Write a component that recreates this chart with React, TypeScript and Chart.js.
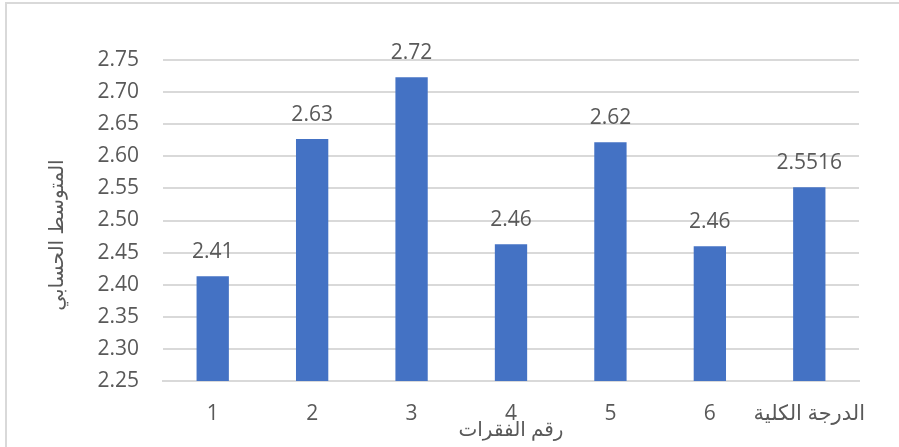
import React, { useEffect, useRef } from "react";
import { Chart, registerables } from "chart.js";

Chart.register(...registerables);

const categories = ["1", "2", "3", "4", "5", "6", "الدرجة الكلية"];
const values = [2.413, 2.627, 2.723, 2.463, 2.622, 2.46, 2.5516];
const dataLabels = ["2.41", "2.63", "2.72", "2.46", "2.62", "2.46", "2.5516"];
const yMin = 2.25;
const yMax = 2.75;
const yStep = 0.05;
const xTitle = "رقم الفقرات";
const yTitle = "المتوسط الحسابي";

const FONT = "'Open Sans', 'DejaVu Sans', sans-serif";
const TEXT = "#595959";

const labelsPlugin = {
  id: "customLabels",
  afterDatasetsDraw(chart: any) {
    const ctx = chart.ctx;
    const meta = chart.getDatasetMeta(0);
    ctx.save();
    ctx.font = `21px ${FONT}`;
    ctx.fillStyle = TEXT;
    ctx.textAlign = "center";
    ctx.textBaseline = "alphabetic";
    meta.data.forEach((el: any, i: number) => {
      ctx.fillText(dataLabels[i], el.x, el.y - 18);
    });
    // x title
    const ca = chart.chartArea;
    ctx.font = `20px ${FONT}`;
    ctx.textBaseline = "middle";
    ctx.fillText(xTitle, (ca.left + ca.right) / 2, 430);
    // y title
    ctx.translate(57, 235);
    ctx.rotate(-Math.PI / 2);
    ctx.fillText(yTitle, 0, 0);
    ctx.restore();
  },
};

export default function App() {
  const ref = useRef<HTMLCanvasElement>(null);
  useEffect(() => {
    if (!ref.current) return;
    const chart = new Chart(ref.current, {
      type: "bar",
      data: {
        labels: categories,
        datasets: [
          {
            data: values,
            backgroundColor: "#4472C4",
            borderWidth: 0,
            barPercentage: 0.325,
            categoryPercentage: 1,
          },
        ],
      },
      options: {
        animation: false,
        responsive: false,
        events: [],
        layout: { padding: { top: 60, right: 40, left: 0, bottom: 0 } },
        plugins: { legend: { display: false }, tooltip: { enabled: false } },
        scales: {
          x: {
            grid: { display: false, drawTicks: false },
            border: { color: "#d9d9d9", width: 2 },
            ticks: {
              color: TEXT,
              font: { size: 21, family: FONT },
              padding: 20,
              maxRotation: 0,
              autoSkip: false,
            },
            afterFit: (s: any) => {
              s.height = 66;
            },
          },
          y: {
            min: yMin,
            max: yMax,
            grid: { color: "#d9d9d9", lineWidth: 2, drawTicks: false },
            border: { display: false },
            ticks: {
              stepSize: yStep,
              color: TEXT,
              font: { size: 21, family: FONT },
              padding: 24,
              callback: (v: any) => Number(v).toFixed(2),
            },
            afterFit: (s: any) => {
              s.width = 163;
            },
          },
        },
      },
      plugins: [labelsPlugin],
    });
    return () => chart.destroy();
  }, []);
  return (
    <div style={{ position: "fixed", left: 0, top: 0, width: 899, height: 447, background: "#fff", overflow: "hidden" }}>
      <div
        style={{
          position: "absolute",
          left: 5,
          top: 2,
          width: 1000,
          height: 1000,
          border: "2px solid #d9d9d9",
          boxSizing: "border-box",
        }}
      />
      <canvas ref={ref} width={899} height={447} style={{ position: "absolute", left: 0, top: 0 }} />
    </div>
  );
}
